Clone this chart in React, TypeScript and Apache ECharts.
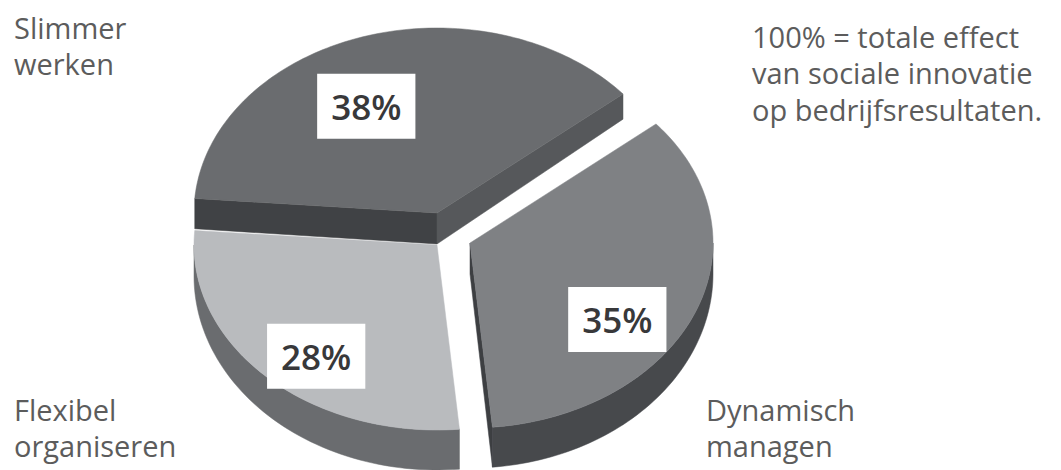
import React, { useEffect, useRef } from "react";
import * as echarts from "echarts";

// ---- data ----
const categories = ["Slimmer werken", "Dynamisch managen", "Flexibel organiseren"];
const values = [38, 35, 28];
const valueLabels = ["38%", "35%", "28%"];
const noteLines = ["100% = totale effect", "van sociale innovatie", "op bedrijfsresultaten."];

// ---- geometry / style (not data) ----
const GEO = { cx: 437, cy: 245, rx: 243, ry: 185, h: 31, hFront: 9, startDeg: 184.5 };
const SLICE_STYLE = [
  { dx: 0, dy: -32, top: "#6a6c6f", side: "#505255", cutStart: "#404245", cutEnd: "#56585b", labelR: 0.646, labelDA: -9 },
  { dx: 33, dy: -2, top: "#7f8184", side: "#47494c", cutStart: "#3d3f42", cutEnd: "#3d3f42", labelR: 0.734, labelDA: 12 },
  { dx: 0, dy: 0, top: "#b9bbbe", side: "#6a6c6f", cutStart: "#5a5c5f", cutEnd: "#5a5c5f", labelR: 0.78, labelDA: -5 },
];
const CAT_POS = [
  { x: 14, y: 27 },
  { x: 706, y: 409 },
  { x: 14, y: 409 },
];
const NOTE_POS = { x: 752, y: 36 };
const LINE_STEP = 36.5;
const FONT = "'Open Sans', 'DejaVu Sans', sans-serif";
const TEXT_COLOR = "#5c5c5c";
const TEXT_FONT = `29px ${FONT}`;

function lineTexts(lines: string[], x: number, y: number) {
  return lines.map((t, k) => ({
    type: "text",
    x,
    y: y + k * LINE_STEP,
    style: {
      text: t,
      font: TEXT_FONT,
      fill: TEXT_COLOR,
      verticalAlign: "middle",
      align: "left",
    },
  }));
}

export default function App() {
  const ref = useRef<HTMLDivElement>(null);

  useEffect(() => {
    if (!ref.current) return;
    document.body.style.margin = "0";
    const chart = echarts.init(ref.current, undefined, { renderer: "svg" });
    const total = values.reduce((a, b) => a + b, 0);

    const renderItem = (params: any, api: any) => {
      const i = params.dataIndex;
      const v = api.value(0) as number;
      let before = 0;
      for (let k = 0; k < i; k++) before += values[k];
      const a0 = ((GEO.startDeg + (before / total) * 360) * Math.PI) / 180;
      const a1 = a0 + (v / total) * 2 * Math.PI;
      const s = SLICE_STYLE[i];
      const ox = GEO.cx + s.dx;
      const oy = GEO.cy + s.dy;
      const hAt = (t: number) => GEO.h + GEO.hFront * Math.sin(t);
      const P = (t: number, r = 1, down = 0) => [
        ox + GEO.rx * r * Math.cos(t),
        oy + GEO.ry * r * Math.sin(t) + down,
      ];
      const children: any[] = [];
      const base = i === 0 ? 0 : 10;

      // outer wall, visible where sin > 0
      const intervals: [number, number][] = [];
      for (let k = 0; k < 3; k++) {
        const lo = Math.max(a0, 2 * Math.PI * k);
        const hi = Math.min(a1, 2 * Math.PI * k + Math.PI);
        if (hi > lo) intervals.push([lo, hi]);
      }
      intervals.forEach(([lo, hi]) => {
        const N = 60;
        const pts: number[][] = [];
        for (let n = 0; n <= N; n++) pts.push(P(lo + ((hi - lo) * n) / N));
        for (let n = N; n >= 0; n--) {
          const t = lo + ((hi - lo) * n) / N;
          pts.push(P(t, 1, hAt(t)));
        }
        children.push({
          type: "polygon",
          z2: base + 1,
          shape: { points: pts },
          style: { fill: s.side, stroke: s.side, lineWidth: 0.5 },
        });
      });

      const hc = GEO.h;
      // start cut face
      if (Math.cos(a0) < 0) {
        children.push({
          type: "polygon",
          z2: base + 2,
          shape: { points: [[ox, oy], P(a0), P(a0, 1, hAt(a0)), [ox, oy + hc]] },
          style: { fill: s.cutStart, stroke: s.cutStart, lineWidth: 0.5 },
        });
      }
      // end cut face
      if (Math.cos(a1) > 0) {
        children.push({
          type: "polygon",
          z2: base + 2,
          shape: { points: [[ox, oy], P(a1), P(a1, 1, hAt(a1)), [ox, oy + hc]] },
          style: { fill: s.cutEnd, stroke: s.cutEnd, lineWidth: 0.5 },
        });
      }
      // top face
      const topPts: number[][] = [[ox, oy]];
      const M = 120;
      for (let n = 0; n <= M; n++) topPts.push(P(a0 + ((a1 - a0) * n) / M));
      children.push({
        type: "polygon",
        z2: base + 3,
        shape: { points: topPts },
        style: { fill: s.top, stroke: s.top, lineWidth: 0.5 },
      });
      // value label
      const mid = (a0 + a1) / 2 + (s.labelDA * Math.PI) / 180;
      const lp = P(mid, s.labelR);
      children.push({
        type: "text",
        z2: 100,
        x: lp[0],
        y: lp[1],
        style: {
          text: valueLabels[i],
          fill: "#38383a",
          font: `600 35px ${FONT}`,
          align: "center",
          verticalAlign: "middle",
          backgroundColor: "#ffffff",
          padding: [11, 14, 11, 14],
          lineHeight: 43,
        },
      });
      return { type: "group", children };
    };

    const graphics: any[] = [];
    categories.forEach((c, i) => {
      graphics.push(...lineTexts(c.split(" "), CAT_POS[i].x, CAT_POS[i].y));
    });
    graphics.push(...lineTexts(noteLines, NOTE_POS.x, NOTE_POS.y));

    chart.setOption({
      animation: false,
      backgroundColor: "#ffffff",
      graphic: graphics,
      series: [
        {
          type: "custom",
          coordinateSystem: "none",
          renderItem,
          data: values.map((v, i) => ({ name: categories[i], value: [v] })),
        },
      ],
    });
    return () => chart.dispose();
  }, []);

  return (
    <div
      ref={ref}
      style={{ position: "fixed", left: 0, top: 0, width: 1061, height: 470 }}
    />
  );
}
